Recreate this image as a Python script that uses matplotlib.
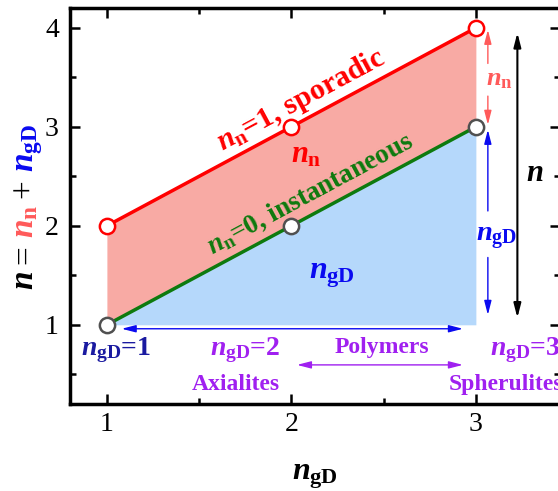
import matplotlib
matplotlib.use("Agg")
import matplotlib.pyplot as plt
from matplotlib.ticker import MultipleLocator

plt.rcParams['font.family'] = 'Liberation Serif'
plt.rcParams['mathtext.fontset'] = 'custom'
plt.rcParams['mathtext.it'] = 'Liberation Serif:bold:italic'
plt.rcParams['mathtext.rm'] = 'Liberation Serif:bold'
plt.rcParams['mathtext.bf'] = 'Liberation Serif:bold'

# growth dimensionality and Avrami exponents
ngd = [1, 2, 3]
n_sporadic = [2, 3, 4]       # n_n = 1
n_instant = [1, 2, 3]        # n_n = 0
xticks = [1, 2, 3]
yticks = [1, 2, 3, 4]

RED = '#FF0000'
GREEN = '#0E7A0E'
RED_FILL = '#F8AAA4'
BLUE_FILL = '#B5D8FB'
PALE_RED = '#FF5A5A'
BLUE = '#0A0AF0'
NAVY = '#1A1AA0'
PURPLE = '#A020F0'

fig = plt.figure(figsize=(5.58, 4.91), dpi=100)
ax = fig.add_axes([70 / 558, 87 / 491, 490 / 558, 396 / 491])

ax.fill_between(ngd, n_instant, n_sporadic, color=RED_FILL, lw=0)
ax.fill_between(ngd, [yticks[0]] * 3, n_instant, color=BLUE_FILL, lw=0)

ax.plot(ngd, n_sporadic, color=RED, lw=2.5, marker='o', ms=11,
        mfc='white', mec=RED, mew=1.8, zorder=4)
ax.plot(ngd, n_instant, color=GREEN, lw=2.5, zorder=4)
ax.plot(ngd, n_instant, ls='none', marker='o', ms=11,
        mfc='white', mec='#505050', mew=1.8, zorder=5)

# labels along the lines
ax.text(2.05, 3.27, r'$n_\mathrm{n}$=1, sporadic', color=RED, fontsize=21.5,
        fontweight='bold', rotation=45, transform_rotates_text=True,
        rotation_mode='anchor', ha='center', va='center')
ax.text(2.10, 2.32, r'$n_\mathrm{n}$=0, instantaneous', color=GREEN, fontsize=19.5,
        fontweight='bold', rotation=45, transform_rotates_text=True,
        rotation_mode='anchor', ha='center', va='center')

ax.text(2.08, 2.72, r'$n_\mathrm{n}$', color=RED, fontsize=22, ha='center', va='center')
ax.text(2.22, 1.50, r'$n_\mathrm{gD}$', color=BLUE, fontsize=23, ha='center', va='center')


def arrow(x0, y0, x1, y1, color, lw=1.0, both=False):
    style = '<|-|>' if both else '-|>'
    ax.annotate('', xy=(x1, y1), xytext=(x0, y0),
                arrowprops=dict(arrowstyle=style + ',head_length=0.7,head_width=0.18',
                                color=color, lw=lw, shrinkA=0, shrinkB=0,
                                mutation_scale=12))


# n_n span on the right
arrow(3.065, 3.64, 3.065, 3.98, PALE_RED)
arrow(3.065, 3.31, 3.065, 3.02, PALE_RED)
ax.text(3.13, 3.47, r'$n_\mathrm{n}$', color=PALE_RED, fontsize=19, ha='center', va='center')

# n_gD span
arrow(3.065, 2.15, 3.065, 2.97, BLUE)
arrow(3.065, 1.68, 3.065, 1.10, BLUE)
ax.text(3.11, 1.87, r'$n_\mathrm{gD}$', color=BLUE, fontsize=20.5, ha='center', va='center')

# total n
arrow(3.225, 1.07, 3.225, 3.95, 'black', lw=1.5, both=True)
ax.text(3.32, 2.53, r'$n$', color='black', fontsize=22, ha='center', va='center')

# bottom annotations
arrow(1.08, 0.96, 2.93, 0.96, BLUE, both=True)
arrow(2.03, 0.595, 2.93, 0.595, PURPLE, both=True)
ax.text(2.49, 0.77, 'Polymers', color=PURPLE, fontsize=17, fontweight='bold',
        ha='center', va='center')
ax.text(1.05, 0.74, r'$n_\mathrm{gD}$=1', color=NAVY, fontsize=20, fontweight='bold',
        ha='center', va='center')
ax.text(1.75, 0.74, r'$n_\mathrm{gD}$=2', color=PURPLE, fontsize=20, fontweight='bold',
        ha='center', va='center')
ax.text(1.70, 0.40, 'Axialites', color=PURPLE, fontsize=17, fontweight='bold',
        ha='center', va='center')
ax.text(3.075, 0.74, r'$n_\mathrm{gD}$=3', color=PURPLE, fontsize=20, fontweight='bold',
        ha='left', va='center')
ax.text(2.85, 0.40, 'Spherulites', color=PURPLE, fontsize=17, fontweight='bold',
        ha='left', va='center')

ax.set_xlim(0.8, 3.456)
ax.set_ylim(0.2, 4.2)
ax.set_xticks(xticks)
ax.set_yticks(yticks)
ax.xaxis.set_minor_locator(MultipleLocator(0.5))
ax.yaxis.set_minor_locator(MultipleLocator(0.5))
ax.tick_params(which='both', direction='in', top=True, right=True,
               labelsize=20, width=1.8)
ax.tick_params(axis='x', pad=6)
ax.tick_params(axis='y', pad=8)
ax.tick_params(which='major', length=7)
ax.tick_params(which='minor', length=4)
for s in ax.spines.values():
    s.set_linewidth(2.5)

ax.set_xlabel(r'$n_\mathrm{gD}$', fontsize=23, labelpad=18)

# multi-coloured y label, built piece by piece from the bottom up
pieces = [(r'$n$', 'black'), ('=', 'black'), (r'$n_\mathrm{n}$', PALE_RED),
          ('+', 'black'), (r'$n_\mathrm{gD}$', BLUE)]
fig.canvas.draw()
renderer = fig.canvas.get_renderer()
y = (491 - 290) / 491
for txt, col in pieces:
    t = fig.text(33 / 558, y, txt, color=col, fontsize=24, rotation=90,
                 rotation_mode='anchor', ha='left', va='baseline')
    bb = t.get_window_extent(renderer)
    y += (bb.height + 7) / fig.bbox.height

fig.savefig('out.png', dpi=100)
